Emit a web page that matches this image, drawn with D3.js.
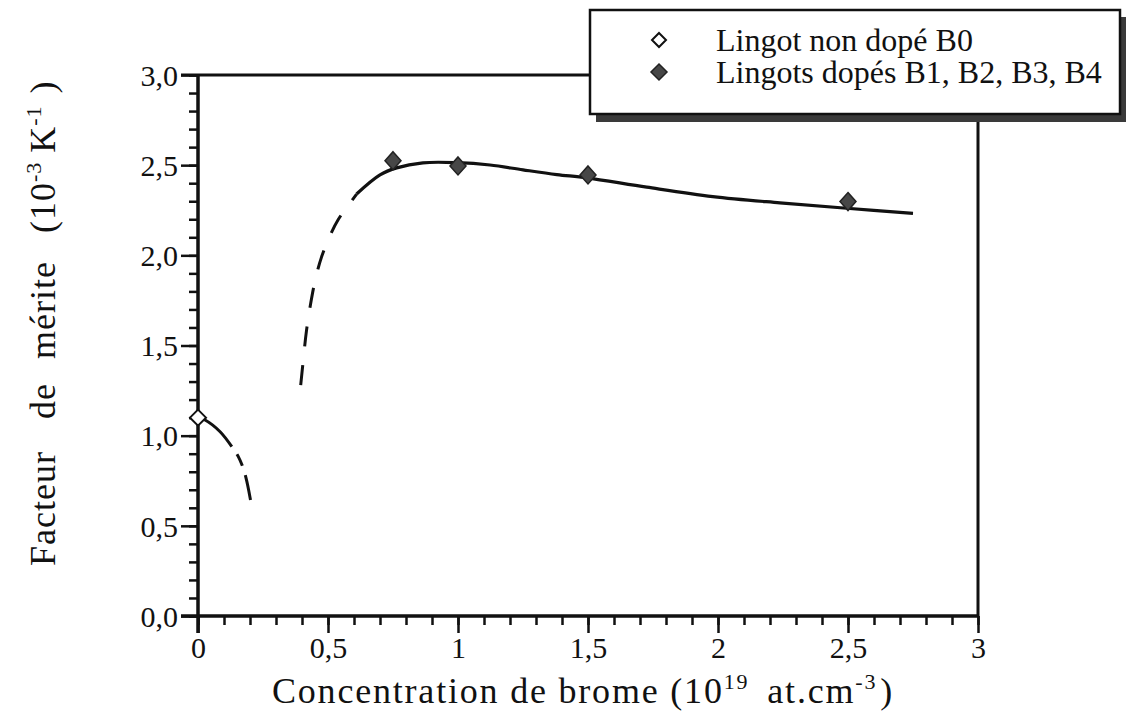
<!DOCTYPE html>
<html>
<head>
<meta charset="utf-8">
<script src="https://cdn.jsdelivr.net/npm/d3@7"></script>
<style>
  html, body { margin: 0; padding: 0; background: #fff; }
  svg { display: block; }
  text { font-family: "Liberation Serif", "Times New Roman", serif; fill: #111; }
</style>
</head>
<body>
<svg id="chart" width="1126" height="727"></svg>
<script>
// ---- data ----
const xTickValues = [0, 0.5, 1, 1.5, 2, 2.5, 3];
const xTickLabels = ["0", "0,5", "1", "1,5", "2", "2,5", "3"];
const yTickValues = [0, 0.5, 1, 1.5, 2, 2.5, 3];
const yTickLabels = ["0,0", "0,5", "1,0", "1,5", "2,0", "2,5", "3,0"];

const undopedX = [0];
const undopedY = [1.10];
const dopedX = [0.75, 1.0, 1.5, 2.5];
const dopedY = [2.525, 2.496, 2.446, 2.298];

// fitted trend curves
const lowSolidCurve = [[0, 1.10], [0.027, 1.087], [0.085, 1.022], [0.13, 0.939]];
const lowDashCurve = [[0.13, 0.939], [0.155, 0.884], [0.174, 0.819], [0.188, 0.745], [0.203, 0.635]];
const upDashCurve = [[0.395, 1.28], [0.405, 1.42], [0.417, 1.58], [0.433, 1.73], [0.452, 1.87],
                     [0.475, 1.99], [0.505, 2.10], [0.54, 2.20], [0.585, 2.29], [0.61, 2.34]];
const upSolidCurve = [[0.61, 2.34], [0.70, 2.446], [0.764, 2.485], [0.865, 2.513], [0.995, 2.514],
                      [1.123, 2.501], [1.25, 2.474], [1.38, 2.448], [1.495, 2.43], [1.726, 2.378],
                      [1.98, 2.326], [2.238, 2.291], [2.495, 2.261], [2.75, 2.233]];

const legendLabels = ["Lingot non dopé B0", "Lingots dopés B1, B2, B3, B4"];

// ---- layout ----
const svg = d3.select("#chart");
const pL = 198, pR = 978, pT = 75, pB = 616;
const x = d3.scaleLinear().domain([0, 3]).range([pL, pR]);
const y = d3.scaleLinear().domain([0, 3]).range([pB, pT]);

const ink = "#111";

// frame (top & right)
svg.append("line").attr("x1", pL - 17).attr("x2", pR).attr("y1", pT).attr("y2", pT)
  .attr("stroke", ink).attr("stroke-width", 3);
svg.append("line").attr("x1", pR).attr("x2", pR).attr("y1", pT).attr("y2", pB)
  .attr("stroke", ink).attr("stroke-width", 3);

// x axis
const xAxisMinor = d3.axisBottom(x).tickValues(d3.range(0, 31).map(i => i / 10))
  .tickSize(9).tickFormat("");
const gxm = svg.append("g").attr("transform", `translate(0,${pB})`).call(xAxisMinor);
const xAxis = d3.axisBottom(x).tickValues(xTickValues).tickSize(17)
  .tickFormat((d, i) => xTickLabels[i]);
const gx = svg.append("g").attr("transform", `translate(0,${pB})`).call(xAxis);
[gx, gxm].forEach(g => {
  g.select(".domain").attr("stroke", ink).attr("stroke-width", 3)
    .attr("d", `M${pL - 17},0H${pR}`);
  g.selectAll(".tick line").attr("stroke", ink).attr("stroke-width", 2.5);
});
gx.selectAll(".tick text").attr("font-size", 30).attr("y", 21).attr("dy", "0.71em")
  .style("font-family", '"Liberation Serif", serif').attr("fill", ink);

// y axis
const yAxisMinor = d3.axisLeft(y).tickValues(d3.range(0, 31).map(i => i / 10))
  .tickSize(9).tickFormat("");
const gym = svg.append("g").attr("transform", `translate(${pL},0)`).call(yAxisMinor);
const yAxis = d3.axisLeft(y).tickValues(yTickValues).tickSize(17)
  .tickFormat((d, i) => yTickLabels[i]);
const gy = svg.append("g").attr("transform", `translate(${pL},0)`).call(yAxis);
[gy, gym].forEach(g => {
  g.select(".domain").attr("stroke", ink).attr("stroke-width", 3)
    .attr("d", `M0,${pB + 17}V${pT}`);
  g.selectAll(".tick line").attr("stroke", ink).attr("stroke-width", 2.5);
});
gy.selectAll(".tick text").attr("font-size", 30).attr("x", -20).attr("dy", "0.34em")
  .style("font-family", '"Liberation Serif", serif').attr("fill", ink);

// curves
const line = d3.line().x(d => x(d[0])).y(d => y(d[1])).curve(d3.curveCatmullRom.alpha(0.5));
svg.append("path").datum(lowSolidCurve).attr("d", line).attr("fill", "none")
  .attr("stroke", ink).attr("stroke-width", 3);
svg.append("path").datum(lowDashCurve).attr("d", line).attr("fill", "none")
  .attr("stroke", ink).attr("stroke-width", 3).attr("stroke-dasharray", "0,9,13,10,16");
svg.append("path").datum(upDashCurve).attr("d", line).attr("fill", "none")
  .attr("stroke", ink).attr("stroke-width", 3).attr("stroke-dasharray", "20,19");
svg.append("path").datum(upSolidCurve).attr("d", line).attr("fill", "none")
  .attr("stroke", ink).attr("stroke-width", 3.2);

// markers
function diamond(cx, cy, w, h) {
  return `M${cx},${cy - h}L${cx + w},${cy}L${cx},${cy + h}L${cx - w},${cy}Z`;
}
svg.selectAll(".doped").data(dopedX.map((d, i) => [d, dopedY[i]])).join("path")
  .attr("d", d => diamond(x(d[0]), y(d[1]), 8, 9))
  .attr("fill", "#474747").attr("stroke", "#222").attr("stroke-width", 1.5);
svg.selectAll(".undoped").data(undopedX.map((d, i) => [d, undopedY[i]])).join("path")
  .attr("d", d => diamond(x(d[0]), y(d[1]), 8, 8))
  .attr("fill", "#fff").attr("stroke", ink).attr("stroke-width", 2);

// axis titles
const xt = svg.append("text").attr("x", 272).attr("y", 703).attr("text-anchor", "start")
  .attr("font-size", 36).style("letter-spacing", "1.8px");
xt.append("tspan").text("Concentration de brome (10");
xt.append("tspan").attr("font-size", 22).attr("dy", -14).text("19");
xt.append("tspan").attr("dy", 14).attr("dx", 18).text("at.cm");
xt.append("tspan").attr("font-size", 22).attr("dy", -14).text("-3");
xt.append("tspan").attr("dy", 14).attr("dx", 3).text(")");

const yt = svg.append("text").attr("transform", "translate(55,566) rotate(-90)")
  .attr("text-anchor", "start").attr("font-size", 36).style("letter-spacing", "1px");
yt.append("tspan").text("Facteur");
yt.append("tspan").attr("dx", 32).text("de");
yt.append("tspan").attr("dx", 24).text("mérite");
yt.append("tspan").attr("dx", 28).text("(10");
yt.append("tspan").attr("font-size", 22).attr("dy", -14).text("-3");
yt.append("tspan").attr("dy", 14).attr("dx", 9).text("K");
yt.append("tspan").attr("font-size", 22).attr("dy", -14).text("-1");
yt.append("tspan").attr("dy", 14).attr("dx", 12).text(")");

// legend
const lg = svg.append("g");
lg.append("rect").attr("x", 596).attr("y", 17).attr("width", 531).attr("height", 105)
  .attr("fill", "#3a3a3a");
lg.append("rect").attr("x", 590).attr("y", 10).attr("width", 530).attr("height", 104)
  .attr("fill", "#fff").attr("stroke", ink).attr("stroke-width", 2.5);
lg.append("path").attr("d", diamond(659, 40, 7, 7)).attr("fill", "#fff")
  .attr("stroke", ink).attr("stroke-width", 2);
lg.append("path").attr("d", diamond(659, 72, 8, 8)).attr("fill", "#474747")
  .attr("stroke", "#222").attr("stroke-width", 1.5);
lg.selectAll(".lt").data(legendLabels).join("text")
  .attr("x", 716).attr("y", (d, i) => 51 + i * 32)
  .attr("font-size", 32).text(d => d);
</script>
</body>
</html>
